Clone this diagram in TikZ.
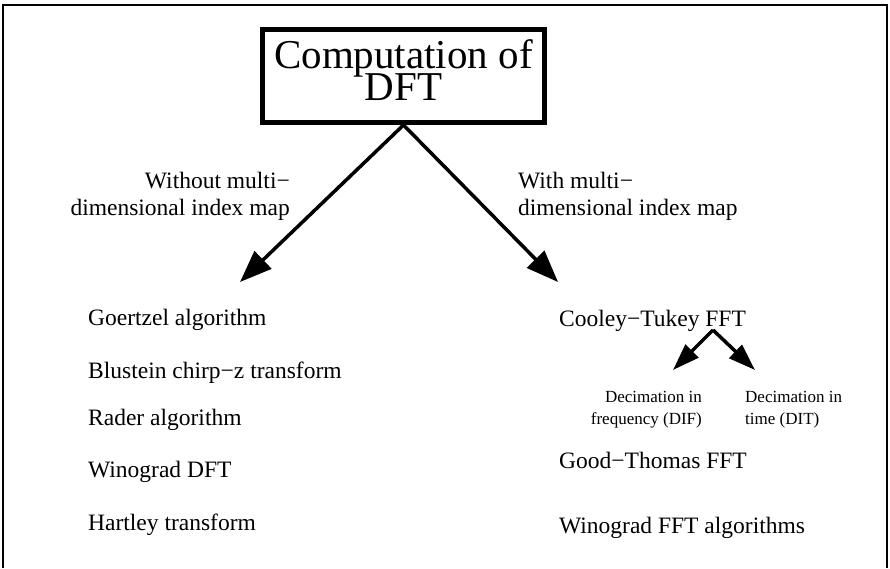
\documentclass[tikz,border=0pt]{standalone}
\usepackage{fontspec}
\setmainfont{Liberation Serif}
\usetikzlibrary{arrows.meta,positioning}

\begin{document}
\lineskiplimit=-100pt
\begin{tikzpicture}[x=1pt, y=-1pt,
  titlebox/.style={draw, line width=5pt, minimum width=282pt, minimum height=93pt,
    inner sep=0pt, align=center, font=\fontsize{41}{32}\selectfont},
  lbl/.style={inner sep=0pt, font=\fontsize{23.5}{27}\selectfont},
  dectxt/.style={inner sep=0pt, font=\fontsize{17}{22}\selectfont},
  bigarr/.style={line width=3.5pt, -{Triangle[length=32pt,width=24pt]}},
  smallarr/.style={line width=3.5pt, -{Triangle[length=27pt,width=18pt]}}]
\useasboundingbox (0,0) rectangle (890,568);
% open frame round the whole chart
\draw[line width=2.5pt] (3,568) |- (887,5) -- (887,568);

\node[titlebox] (title) at (403.5,76) {Computation of\\DFT\rule[-12pt]{0pt}{12pt}};

% the two branches
\coordinate (nomaptip) at (240,282);
\coordinate (maptip) at (558,282);
\draw[bigarr] (title.south) -- (nomaptip);
\draw[bigarr] (title.south) -- (maptip);
\node[lbl, align=right, anchor=base east] (nomap) at (290,215) {Without multi−\\dimensional index map};
\node[lbl, align=left, anchor=base west] (withmap) at (518,215) {With multi−\\dimensional index map};

% without index map
\node[lbl, anchor=base west] (goertzel) at (88,325) {Goertzel algorithm};
\node[lbl, below=53pt of goertzel.base west, anchor=base west] (blustein) {Blustein chirp−z transform};
\node[lbl, below=47pt of blustein.base west, anchor=base west] (rader) {Rader algorithm};
\node[lbl, below=52pt of rader.base west, anchor=base west] (winodft) {Winograd DFT};
\node[lbl, below=53pt of winodft.base west, anchor=base west] (hartley) {Hartley transform};

% with index map
\node[lbl, anchor=base west] (cooley) at (559,326) {Cooley−Tukey FFT};
\coordinate (ctsplit) at (713,330);
\coordinate (diftip) at (673,370);
\coordinate (dittip) at (755,370);
\draw[smallarr] (ctsplit) -- (diftip);
\draw[smallarr] (ctsplit) -- (dittip);
\node[dectxt, align=right, anchor=base east] (dif) at (702,424) {Decimation in\\frequency (DIF)};
\node[dectxt, align=left, anchor=base west] (dit) at (745,424) {Decimation in\\time (DIT)};
\node[lbl, below=142pt of cooley.base west, anchor=base west] (goodthomas) {Good−Thomas FFT};
\node[lbl, below=65pt of goodthomas.base west, anchor=base west] (winofft) {Winograd FFT algorithms};
\end{tikzpicture}
\end{document}
